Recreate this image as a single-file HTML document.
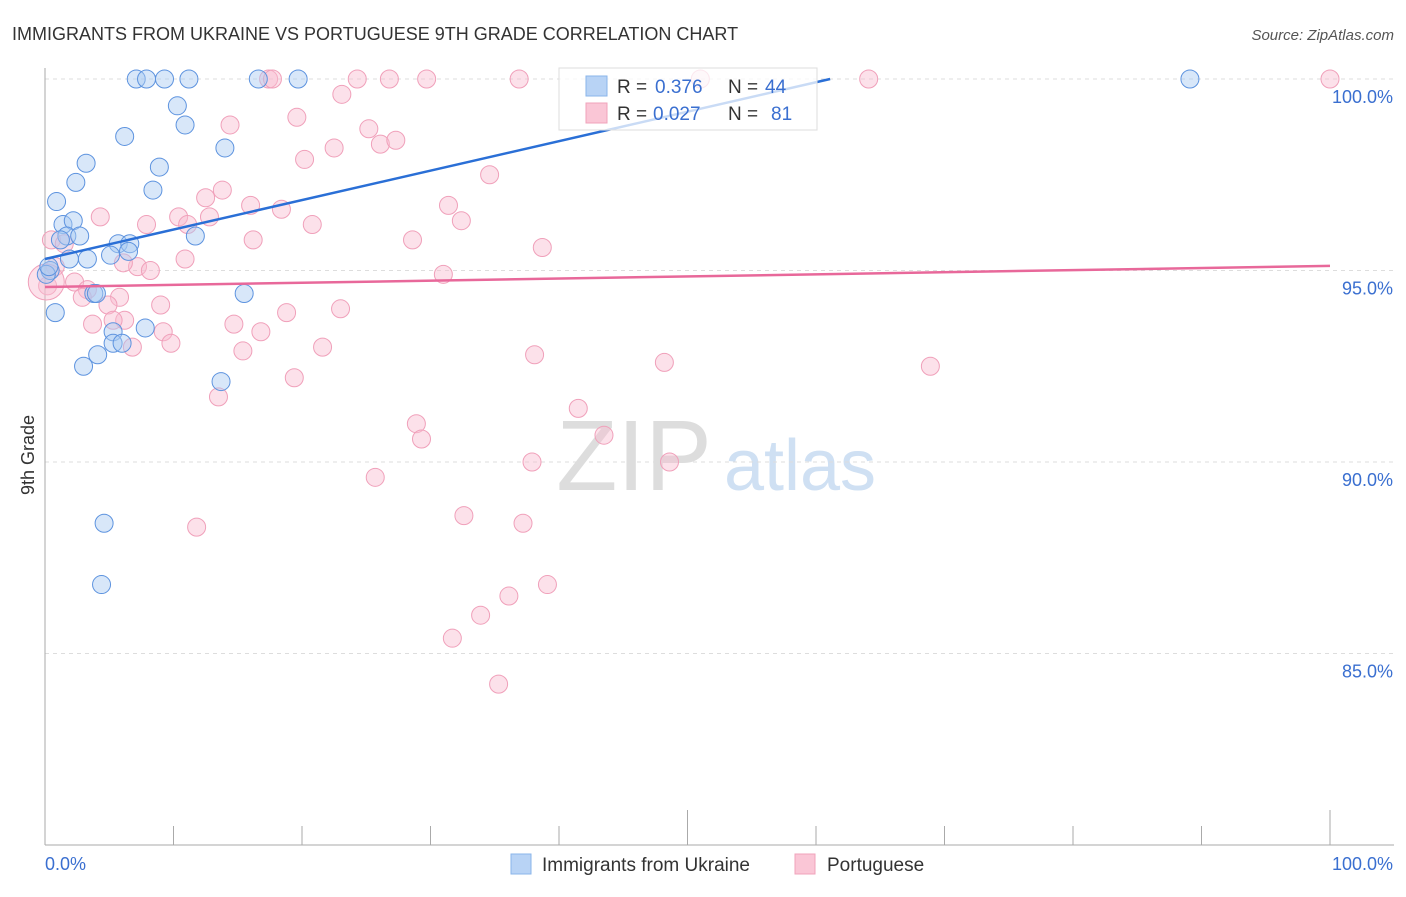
<!DOCTYPE html>
<html><head><meta charset="utf-8"><style>
body{margin:0;background:#fff;font-family:"Liberation Sans",sans-serif}
svg text{font-family:"Liberation Sans",sans-serif}
</style></head><body>
<svg id="chart" width="1406" height="892" viewBox="0 0 1406 892">
<text x="12" y="40" font-size="18" fill="#333">IMMIGRANTS FROM UKRAINE VS PORTUGUESE 9TH GRADE CORRELATION CHART</text>
<text x="1394" y="40" font-size="15" fill="#555" font-style="italic" text-anchor="end">Source: ZipAtlas.com</text>
<text x="634" y="490" font-size="100" fill="#ddd" font-family="Liberation Serif" text-anchor="middle">ZIP</text>
<text x="800" y="490" font-size="72" fill="#cfe0f3" text-anchor="middle">atlas</text>
<g id="grid"></g><g id="axes"></g><g id="pts"></g><g id="lines"></g>
<text transform="translate(34,455) rotate(-90)" font-size="18" fill="#333" text-anchor="middle">9th Grade</text>
<g>
<rect x="559" y="68" width="258" height="62" fill="#fff" fill-opacity="0.75" stroke="#ddd"/>
<rect x="586" y="76" width="21" height="20" fill="#b8d3f5" stroke="#8ab4ea"/>
<rect x="586" y="103" width="21" height="20" fill="#fac6d6" stroke="#f0a3bb"/>
<text x="617" y="93" font-size="19" fill="#333">R = <tspan x="655" fill="#3a6fd0">0.376</tspan><tspan x="728">N = </tspan><tspan x="765" fill="#3a6fd0">44</tspan></text>
<text x="617" y="120" font-size="19" fill="#333">R = <tspan x="653" fill="#3a6fd0">0.027</tspan><tspan x="728">N = </tspan><tspan x="771" fill="#3a6fd0">81</tspan></text>
</g>
<g>
<rect x="511" y="854" width="20" height="20" fill="#b8d3f5" stroke="#8ab4ea"/>
<text x="542" y="871" font-size="19" fill="#333">Immigrants from Ukraine</text>
<rect x="795" y="854" width="20" height="20" fill="#fac6d6" stroke="#f0a3bb"/>
<text x="827" y="871" font-size="19" fill="#333">Portuguese</text>
</g>
</svg>
<script>
const yTicks=[100,95,90,85];
const yTickLabels=["100.0%","95.0%","90.0%","85.0%"];
const xTickLabels=["0.0%","100.0%"];
const blueX=[7.1,7.9,9.3,11.2,16.6,19.7,89.1,10.3,10.9,6.2,14.0,3.2,8.9,2.4,8.4,0.9,1.4,2.2,1.7,2.7,1.2,11.7,5.7,6.6,6.5,5.1,3.3,1.9,0.4,0.1,3.8,4.0,15.5,0.8,7.8,5.3,5.3,6.0,4.1,3.0,13.7,4.6,4.4,0.3];
const blueY=[100,100,100,100,100,100,100,99.3,98.8,98.5,98.2,97.8,97.7,97.3,97.1,96.8,96.2,96.3,95.9,95.9,95.8,95.9,95.7,95.7,95.5,95.4,95.3,95.3,95.0,94.9,94.4,94.4,94.4,93.9,93.5,93.4,93.1,93.1,92.8,92.5,92.1,88.4,86.8,95.1];
const pinkX=[17.4,17.7,24.3,26.8,29.7,36.9,51.0,64.1,100,23.1,19.6,14.4,25.2,20.2,22.5,26.1,27.3,34.6,13.8,12.5,16.0,18.4,31.4,10.4,12.8,4.3,11.1,20.8,32.4,7.9,16.2,28.6,38.7,10.9,7.2,8.2,31.0,0.5,0.8,0.2,2.3,3.3,2.9,5.8,4.9,9.0,23.0,18.8,3.7,6.2,5.3,14.7,9.2,16.8,9.8,6.8,15.4,21.6,38.1,48.2,68.9,19.4,13.5,41.5,28.9,29.3,43.5,37.9,48.6,25.7,32.6,37.2,11.8,39.1,36.1,33.9,31.7,35.3,0.1,1.5,6.1];
const pinkY=[100,100,100,100,100,100,100,100,100,99.6,99.0,98.8,98.7,97.9,98.2,98.3,98.4,97.5,97.1,96.9,96.7,96.6,96.7,96.4,96.4,96.4,96.2,96.2,96.3,96.2,95.8,95.8,95.6,95.3,95.1,95.0,94.9,95.8,95.1,94.6,94.7,94.5,94.3,94.3,94.1,94.1,94.0,93.9,93.6,93.7,93.7,93.6,93.4,93.4,93.1,93.0,92.9,93.0,92.8,92.6,92.5,92.2,91.7,91.4,91.0,90.6,90.7,90.0,90.0,89.6,88.6,88.4,88.3,86.8,86.5,86.0,85.4,84.2,94.7,95.7,95.2];
const blueTrend=[0,95.3,61.1,100];
const pinkTrend=[0,94.57,100,95.12];
const X0=45,X1=1330;
function xs(v){return X0+(X1-X0)*v/100;}
function ys(v){return 79+(100-v)*38.3;}
const NS="http://www.w3.org/2000/svg";
function mk(t,a,p){const e=document.createElementNS(NS,t);for(const k in a)e.setAttribute(k,a[k]);document.getElementById(p).appendChild(e);return e;}
yTicks.forEach((t,i)=>{
 const l=mk('line',{x1:X0,x2:1394,y1:ys(t),y2:ys(t),stroke:'#ddd','stroke-dasharray':'4 4'},'grid');
 
 
 const tx=mk('text',{x:1393,y:ys(t)+24,'font-size':18,fill:'#3a6fd0','text-anchor':'end'},'grid');
 tx.textContent=yTickLabels[i];
 
 
});
let ax=mk('line',{x1:X0,x2:X0,y1:68,y2:845,stroke:'#aaa'},'axes');


ax=mk('line',{x1:X0,x2:1394,y1:845,y2:845,stroke:'#aaa'},'axes');


for(let i=0;i<=10;i++){
 const big=(i==5||i==10);
 const t=mk('line',{x1:xs(i*10),x2:xs(i*10),y1:big?810:826,y2:845,stroke:'#aaa'},'axes');
 
 
}
[[0,'start',45],[1,'end',1393]].forEach(([i,a,x])=>{
 const t=mk('text',{x:x,y:870,'font-size':18,fill:'#3a6fd0','text-anchor':a},'axes');
 t.textContent=xTickLabels[i];
 
 
});
pinkX.forEach((v,i)=>{
 const c=mk('circle',{cx:xs(v),cy:ys(pinkY[i]),r:i==78?18:9,fill:'#f9bcd0','fill-opacity':0.45,stroke:'#f0a0ba','stroke-width':1},'pts');
 
 
});
blueX.forEach((v,i)=>{
 const c=mk('circle',{cx:xs(v),cy:ys(blueY[i]),r:9,fill:'#a9c9f2','fill-opacity':0.45,stroke:'#5d93df','stroke-width':1},'pts');
 
 
});
let ln=mk('line',{x1:xs(blueTrend[0]),y1:ys(blueTrend[1]),x2:xs(blueTrend[2]),y2:ys(blueTrend[3]),stroke:'#2a6fd6','stroke-width':2.5},'lines');


ln=mk('line',{x1:xs(pinkTrend[0]),y1:ys(pinkTrend[1]),x2:xs(pinkTrend[2]),y2:ys(pinkTrend[3]),stroke:'#e8689a','stroke-width':2.5},'lines');


</script>
</body></html>
